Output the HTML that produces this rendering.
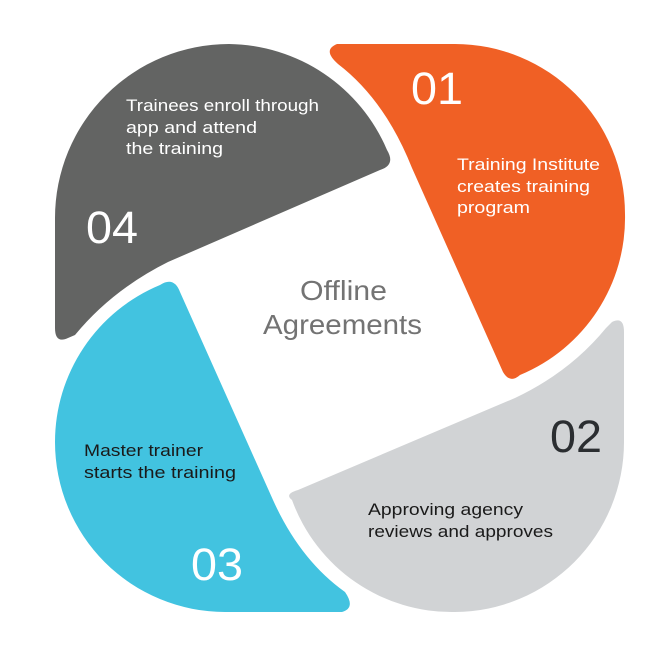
<!DOCTYPE html>
<html><head><style>
html,body{margin:0;padding:0;background:#fff;}
svg{display:block;}
text{font-family:"Liberation Sans",sans-serif;}
</style></head><body>
<svg width="656" height="652" viewBox="0 0 656 652" xmlns="http://www.w3.org/2000/svg">
<path d="M337,44 L455,44 A170,170 0 0 1 625,214 A170,170 0 0 1 520,375 Q510,384 503,372 L412,168 Q385,100 338,64 Q322,50 337,44 Z" fill="#f06025"/>
<path d="M612,322 Q624,316 624,332 L624,442 A170,170 0 0 1 455,612 A170,170 0 0 1 292,500 Q284,494 298,490 L515,398 Q570,372 606,328 Z" fill="#d1d3d5"/>
<path d="M342,612 L225,612 A170,170 0 0 1 55,442 A170,170 0 0 1 160,285 Q174,276 180,292 L273,500 Q300,560 345,592 Q356,608 342,612 Z" fill="#42c3e0"/>
<path d="M68,338 Q55,344 55,328 L55,218 A174,174 0 0 1 229,44 A174,174 0 0 1 387,150 Q396,165 380,170 L168,262 Q112,290 75,335 Z" fill="#636463"/>
<g font-size="45" fill="#fff" lengthAdjust="spacingAndGlyphs">
<text x="411" y="104" textLength="52" lengthAdjust="spacingAndGlyphs">01</text>
<text x="86" y="243" textLength="52" lengthAdjust="spacingAndGlyphs">04</text>
<text x="191" y="580" textLength="52" lengthAdjust="spacingAndGlyphs">03</text>
<text x="550" y="452" fill="#2b2e31" textLength="52" lengthAdjust="spacingAndGlyphs">02</text>
</g>
<g font-size="16.5" fill="#fff">
<text x="126" y="111" textLength="193" lengthAdjust="spacingAndGlyphs">Trainees enroll through</text>
<text x="126" y="133" textLength="131" lengthAdjust="spacingAndGlyphs">app and attend</text>
<text x="126" y="154" textLength="97" lengthAdjust="spacingAndGlyphs">the training</text>
<text x="457" y="170" textLength="143" lengthAdjust="spacingAndGlyphs">Training Institute</text>
<text x="457" y="192" textLength="133" lengthAdjust="spacingAndGlyphs">creates training</text>
<text x="457" y="213" textLength="73" lengthAdjust="spacingAndGlyphs">program</text>
</g>
<g font-size="16.5" fill="#1a1a1a">
<text x="84" y="456" textLength="119" lengthAdjust="spacingAndGlyphs">Master trainer</text>
<text x="84" y="478" textLength="152" lengthAdjust="spacingAndGlyphs">starts the training</text>
<text x="368" y="515" textLength="155" lengthAdjust="spacingAndGlyphs">Approving agency</text>
<text x="368" y="537" textLength="185" lengthAdjust="spacingAndGlyphs">reviews and approves</text>
</g>
<g font-size="28" fill="#737373">
<text x="300" y="300" textLength="87" lengthAdjust="spacingAndGlyphs">Offline</text>
<text x="263" y="334" textLength="159" lengthAdjust="spacingAndGlyphs">Agreements</text>
</g>
</svg>
</body></html>
